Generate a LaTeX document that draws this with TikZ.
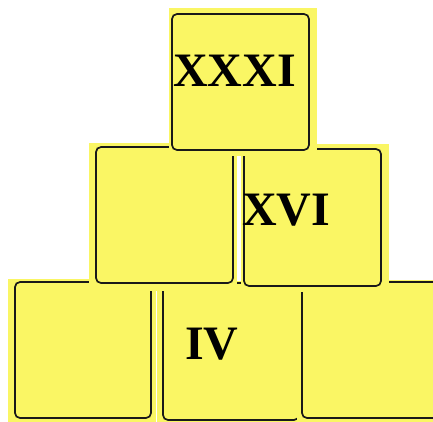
\documentclass[tikz,border=0pt]{standalone}
\usepackage{fontspec}
\setmainfont{Liberation Serif}
\usepackage{tikz}
\usepackage{xcolor}
\usetikzlibrary{positioning}
\definecolor{blockyellow}{RGB}{250, 246, 100}
\definecolor{blockline}{RGB}{25, 25, 25}
\tikzset{
  blockbg/.style={rectangle, fill=blockyellow, inner sep=0pt,
                  minimum width=148pt, minimum height=148pt},
  blockframe/.style={rectangle, rounded corners=5pt, draw=blockline, line width=1.7pt,
                     inner sep=0pt, minimum width=136pt, minimum height=136pt},
  numeral/.style={font=\fontsize{48}{48}\selectfont\bfseries, inner sep=0pt, anchor=base west},
}

\begin{document}
\begin{tikzpicture}[x=1pt, y=-1pt]
  \useasboundingbox (0,0) rectangle (433,421);
  \clip (0,0) rectangle (433,421);
  % bottom row
  \node[blockbg] (bgbl) at (81.5,353) {};
  \node[blockframe] (bl) at (83,350) {};
  \node[blockbg] (bgbm) at (231,355) {};
  \node[blockframe, minimum height=137pt] (bm) at (231,351.5) {};
  \node[numeral] (four) at (185,359) {IV};
  \node[blockbg] (bgbr) at (371,354) {};
  \node[blockframe] (br) at (370,350) {};
  % middle row
  \node[blockbg] (bgml) at (163,217) {};
  \node[blockframe, minimum width=137pt] (ml) at (164.5,215) {};
  \node[blockbg] (bgmr) at (315,218) {};
  \node[blockframe, minimum width=137pt, minimum height=137pt] (mr) at (312.5,217.5) {};
  \node[numeral] (sixteen) at (242,225) {XVI};
  % top
  \node[blockbg] (bgtop) at (242.5,82) {};
  \node[blockframe, minimum width=137pt] (top) at (240.5,82) {};
  \node[numeral] (thirtyone) at (173,86) {XXXI};
\end{tikzpicture}
\end{document}
